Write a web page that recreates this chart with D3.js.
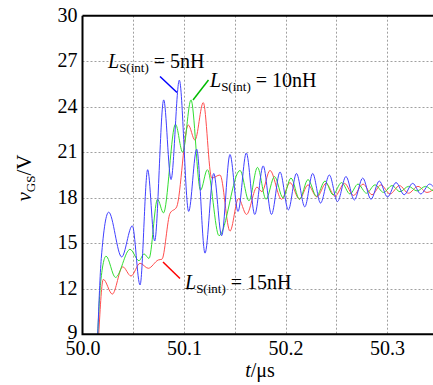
<!DOCTYPE html>
<html><head><meta charset="utf-8">
<script src="https://cdn.jsdelivr.net/npm/d3@7"></script>
<style>
html,body{margin:0;padding:0;background:#fff;}
svg{display:block;}
svg text{font-family:"Liberation Serif","Times New Roman","DejaVu Serif",serif !important;}
</style></head>
<body><svg id="c" width="433" height="385"></svg>
<script>
// ---- data ----
const yTicks = [9, 12, 15, 18, 21, 24, 27, 30];
const xTicks = [50.0, 50.1, 50.2, 50.3];
const xGrid = [50.05, 50.1, 50.15, 50.2, 50.25, 50.3, 50.35];

const tBlue = [50.0150,50.0185,50.0258,50.0386,50.0491,50.0567,50.0642,50.0711,50.0800,50.0872,50.0954,50.1046,50.1125,50.1207,50.1293,50.1371,50.1453,50.1532,50.1614,50.1697,50.1780,50.1862,50.1946,50.2028,50.2108,50.2190,50.2268,50.2345,50.2432,50.2512,50.2596,50.2678,50.2761,50.2842,50.2924,50.3005,50.3089,50.3169,50.3253,50.3333,50.3419,50.3498];
const vBlue = [9.0,14.0,17.05,14.1,16.15,12.25,19.85,15.15,24.45,19.2,25.75,17.1,21.2,14.35,19.6,15.5,20.85,17.1,20.95,16.9,20.1,16.9,19.7,17.2,19.6,17.4,19.6,17.65,19.5,17.75,19.4,17.85,19.3,17.9,19.1,18.05,19.0,18.2,18.95,18.25,18.9,18.3];

const tGreen = [50.0150,50.0180,50.0232,50.0325,50.0468,50.0557,50.0606,50.0655,50.0739,50.0798,50.0916,50.0987,50.1069,50.1163,50.1230,50.1345,50.1552,50.1640,50.1724,50.1808,50.1892,50.1975,50.2054,50.2138,50.2222,50.2305,50.2389,50.2468,50.2552,50.2635,50.2714,50.2798,50.2882,50.2966,50.3049,50.3128,50.3212,50.3296,50.3379,50.3463,50.3542];
const vGreen = [9.0,12.5,14.15,12.75,14.6,13.85,14.3,14.0,17.9,17.0,22.85,21.0,24.45,18.5,19.85,15.5,19.8,17.8,20.0,17.9,19.4,18.0,19.3,17.9,19.2,18.1,19.1,18.2,19.0,18.25,18.9,18.3,18.85,18.35,18.8,18.4,18.75,18.45,18.75,18.45,18.65];

const tRed = [50.0160,50.0205,50.0294,50.0396,50.0478,50.0567,50.0648,50.0747,50.0783,50.0862,50.0928,50.1042,50.1108,50.1190,50.1273,50.1355,50.1453,50.1537,50.1616,50.1719,50.1768,50.1847,50.1961,50.2044,50.2138,50.2222,50.2310,50.2399,50.2487,50.2581,50.2670,50.2764,50.2852,50.2941,50.3030,50.3123,50.3212,50.3305,50.3394,50.3483];
const vRed = [9.0,12.62,11.65,13.45,12.84,13.68,13.35,13.9,13.95,16.97,17.4,22.8,21.8,24.27,19.3,19.5,15.8,17.95,16.9,18.7,18.4,19.8,17.9,19.0,17.9,18.85,18.05,18.95,18.1,18.95,18.15,18.9,18.2,18.85,18.25,18.8,18.3,18.75,18.35,18.7];

const seriesNames = ["5nH", "10nH", "15nH"];

// ---- layout ----
const svg = d3.select("#c");
const L = 82.5, T = 15.7, B = 334.3;
const x = d3.scaleLinear().domain([50, 50.35]).range([L, L + 0.35 * 1015]);
const y = d3.scaleLinear().domain([9, 30]).range([B, T]);

svg.append("clipPath").attr("id", "clip").append("rect")
  .attr("x", L).attr("y", T).attr("width", 440 - L).attr("height", B - T);

// grid
const grid = svg.append("g").attr("stroke", "#a0a0a0").attr("stroke-width", 1).attr("stroke-dasharray", "2,2");
grid.selectAll("line.h").data(yTicks.filter(d => d > 9 && d < 30)).join("line")
  .attr("x1", L).attr("x2", 433).attr("y1", d => Math.round(y(d)) + 0.5).attr("y2", d => Math.round(y(d)) + 0.5);
grid.selectAll("line.v").data(xGrid).join("line")
  .attr("y1", T).attr("y2", B).attr("x1", d => Math.round(x(d)) + 0.5).attr("x2", d => Math.round(x(d)) + 0.5);

// curves
const line = d3.line().x(d => x(d[0])).y(d => y(d[1])).curve(d3.curveMonotoneX);
const curves = svg.append("g").attr("clip-path", "url(#clip)").attr("fill", "none").attr("stroke-width", 1);
const series = [
  {t: tRed, v: vRed, c: "#ff4d4d"},
  {t: tGreen, v: vGreen, c: "#33dd33"},
  {t: tBlue, v: vBlue, c: "#4040ff"}
];
series.forEach(s => {
  curves.append("path").attr("stroke", s.c).attr("d", line(s.t.map((t, i) => [t, s.v[i]])));
});

// axes frame
const frame = svg.append("g").attr("stroke", "#000").attr("stroke-width", 2).attr("fill", "none");
frame.append("path").attr("d", `M${L},${T} L${L},${B} L433,${B}`);
frame.append("line").attr("x1", L).attr("x2", 433).attr("y1", T).attr("y2", T);

// y tick labels
const yAxis = d3.axisLeft(y).tickValues(yTicks).tickSize(0).tickPadding(5).tickFormat(d3.format("d"));
const gy = svg.append("g").attr("transform", `translate(${L},0)`).call(yAxis);
gy.select(".domain").remove();
gy.selectAll("text").attr("font-size", 20).attr("fill", "#000").attr("dy", d => d === 9 ? "0.2em" : "0.28em");

// x tick labels
const xAxis = d3.axisBottom(x).tickValues(xTicks).tickSize(0).tickPadding(7).tickFormat(d3.format(".1f"));
const gx = svg.append("g").attr("transform", `translate(0,${B})`).call(xAxis);
gx.select(".domain").remove();
gx.selectAll("text").attr("font-size", 20).attr("fill", "#000");

// axis titles
const yt = svg.append("text").attr("transform", "translate(31,178) rotate(-90)")
  .attr("text-anchor", "middle").attr("font-size", 21);
yt.append("tspan").attr("font-style", "italic").text("v");
yt.append("tspan").attr("font-size", 13).attr("dy", 4).text("GS");
yt.append("tspan").attr("dy", -4).text("/V");

const xt = svg.append("text").attr("x", 260).attr("y", 377).attr("text-anchor", "middle").attr("font-size", 20);
xt.append("tspan").attr("font-style", "italic").text("t");
xt.append("tspan").text("/μs");

// annotations
function label(xp, yp, val) {
  const t = svg.append("text").attr("x", xp).attr("y", yp).attr("font-size", 20);
  t.append("tspan").attr("font-style", "italic").text("L");
  t.append("tspan").attr("font-size", 13).attr("dy", 4).text("S(int)");
  t.append("tspan").attr("dy", -4).text(" = " + val);
}
label(108, 68, seriesNames[0]);
label(210, 87, seriesNames[1]);
label(185, 289, seriesNames[2]);

const leaders = svg.append("g").attr("stroke-width", 1.5);
leaders.append("line").attr("stroke", "#0000ff").attr("x1", 160).attr("y1", 76.5).attr("x2", 177).attr("y2", 92.5);
leaders.append("line").attr("stroke", "#00bb00").attr("x1", 208.5).attr("y1", 80).attr("x2", 193).attr("y2", 100);
leaders.append("line").attr("stroke", "#ff0000").attr("x1", 163).attr("y1", 262).attr("x2", 180).attr("y2", 278.5);
</script></body></html>
